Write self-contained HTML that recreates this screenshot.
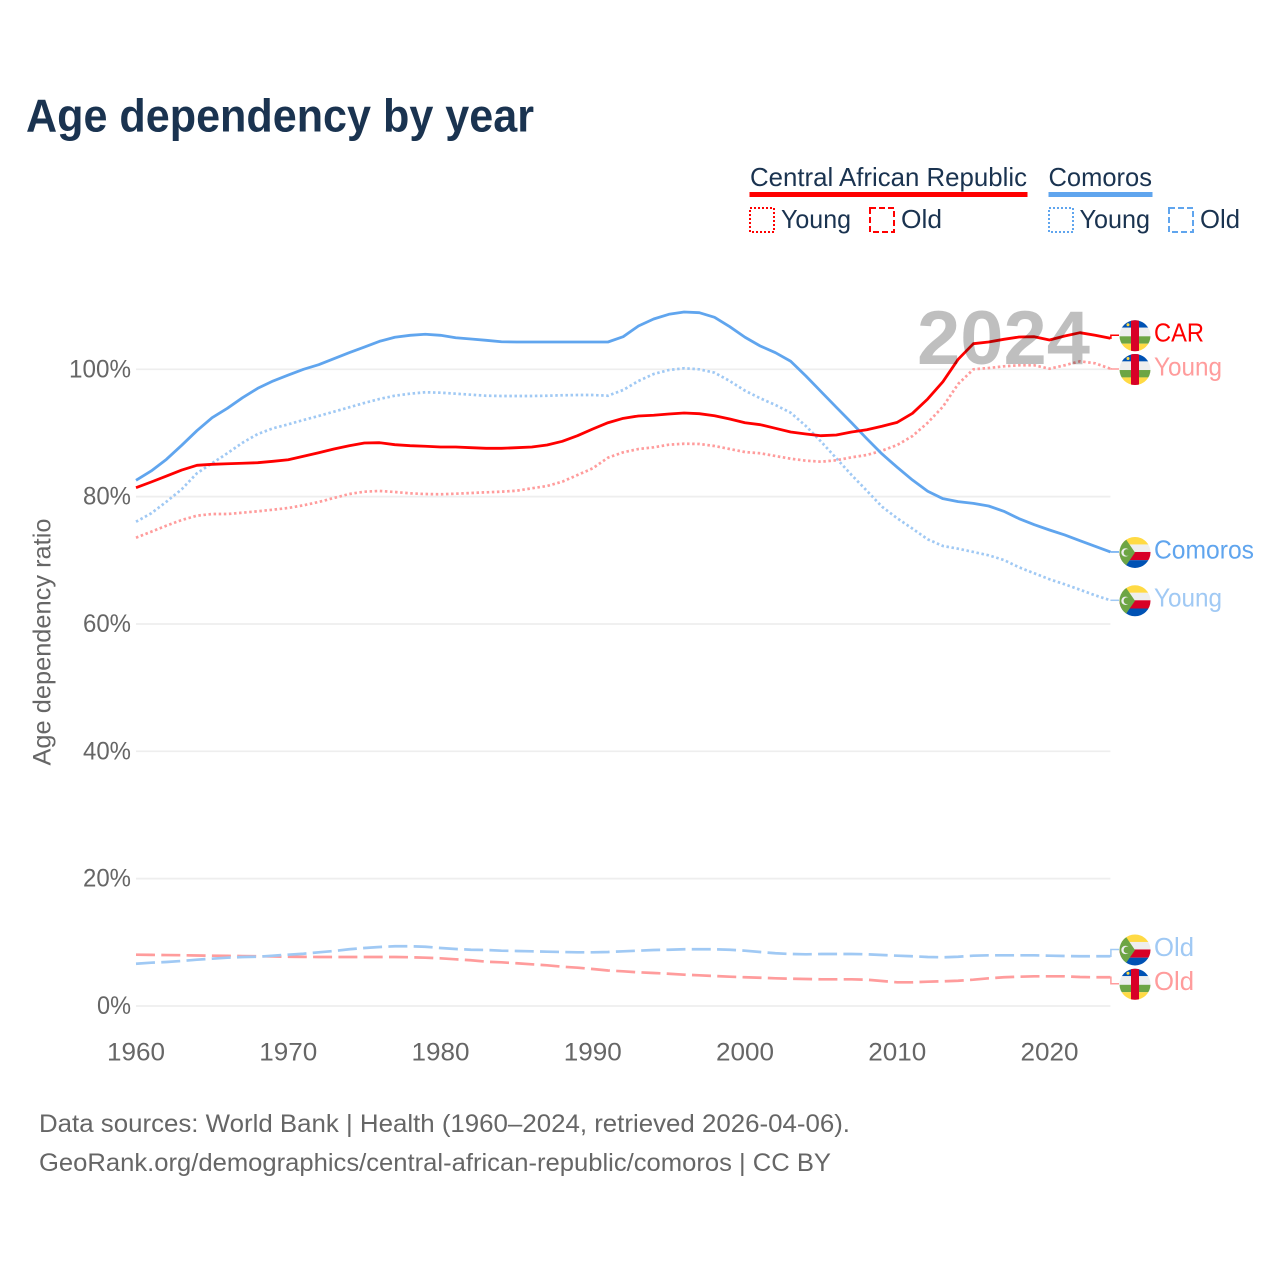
<!DOCTYPE html>
<html lang="en">
<head>
<meta charset="utf-8">
<title>Age dependency by year</title>
<style>
html,body{margin:0;padding:0;background:#fff;}
svg{display:block;font-family:"Liberation Sans",sans-serif;}
</style>
</head>
<body>
<svg id="chart" xmlns="http://www.w3.org/2000/svg" width="1280" height="1280" viewBox="0 0 1280 1280">
<defs>
<clipPath id="flag-clip"><circle cx="0" cy="0" r="15.5"/></clipPath>
<g id="flag-car" clip-path="url(#flag-clip)">
<rect x="-16" y="-16" width="32" height="8" fill="#0052b4"/>
<rect x="-16" y="-8.2" width="32" height="8.7" fill="#eeeeee"/>
<rect x="-16" y="0.5" width="32" height="7.4" fill="#6da544"/>
<rect x="-16" y="7.9" width="32" height="8.1" fill="#ffda44"/>
<rect x="-4" y="-16" width="8" height="32" fill="#d80027"/>
<circle cx="-7" cy="-11" r="1.5" fill="#ffda44"/>
</g>
<g id="flag-com" clip-path="url(#flag-clip)">
<rect x="-16" y="-16" width="32" height="8" fill="#ffda44"/>
<rect x="-16" y="-8" width="32" height="7.5" fill="#eeeeee"/>
<rect x="-16" y="-0.5" width="32" height="8.2" fill="#d80027"/>
<rect x="-16" y="7.7" width="32" height="8.3" fill="#0052b4"/>
<polygon points="-16,-16 -11,-16 0,0 -11,16 -16,16" fill="#6da544"/>
<circle cx="-9.5" cy="0" r="4.2" fill="#eeeeee"/>
<circle cx="-8" cy="0" r="3.4" fill="#6da544"/>
</g>
</defs>

<text x="26" y="131.3" font-size="46" font-weight="700" fill="#1a3350" textLength="508" lengthAdjust="spacingAndGlyphs">Age dependency by year</text>

<g fill="#1a3350" font-size="26">
<text x="750" y="186" textLength="277" lengthAdjust="spacingAndGlyphs">Central African Republic</text>
<rect x="749.5" y="192" width="278" height="5" fill="#ff0000"/>
<text x="1048.5" y="186" textLength="103.5" lengthAdjust="spacingAndGlyphs">Comoros</text>
<rect x="1048.5" y="192" width="104" height="5" fill="#60a5ee"/>

<rect x="750" y="208" width="24" height="24" fill="none" stroke="#ff0000" stroke-width="2" stroke-dasharray="2,2"/>
<text x="781" y="228" textLength="70" lengthAdjust="spacingAndGlyphs">Young</text>
<rect x="870" y="208" width="24" height="24" fill="none" stroke="#ff0000" stroke-width="2" stroke-dasharray="6,3"/>
<text x="901" y="228" textLength="41" lengthAdjust="spacingAndGlyphs">Old</text>
<rect x="1049" y="208" width="24" height="24" fill="none" stroke="#60a5ee" stroke-width="2" stroke-dasharray="2,2"/>
<text x="1079.5" y="228" textLength="70.5" lengthAdjust="spacingAndGlyphs">Young</text>
<rect x="1169" y="208" width="24" height="24" fill="none" stroke="#60a5ee" stroke-width="2" stroke-dasharray="6,3"/>
<text x="1200" y="228" textLength="40" lengthAdjust="spacingAndGlyphs">Old</text>
</g>

<text transform="translate(50.5,642) rotate(-90)" text-anchor="middle" font-size="25" fill="#666666" textLength="247" lengthAdjust="spacingAndGlyphs">Age dependency ratio</text>

<g id="grid"></g>
<g id="y-ticks"></g>
<g id="x-ticks"></g>
<g id="series"></g>
<g id="end-labels"></g>

<text x="917" y="364" font-size="76" font-weight="700" fill="#000000" fill-opacity="0.25" textLength="173" lengthAdjust="spacingAndGlyphs">2024</text>

<g font-size="25" fill="#666666">
<text x="39" y="1132" textLength="811" lengthAdjust="spacingAndGlyphs">Data sources: World Bank | Health (1960–2024, retrieved 2026-04-06).</text>
<text x="39" y="1171" textLength="792" lengthAdjust="spacingAndGlyphs">GeoRank.org/demographics/central-african-republic/comoros | CC BY</text>
</g>
</svg>

<script>
const startYear = 1960;
const xTickYears = [1960, 1970, 1980, 1990, 2000, 2010, 2020];
const yTickValues = [0, 20, 40, 60, 80, 100];

const comorosTotal = [82.57,84.03,85.86,88.06,90.36,92.40,93.87,95.54,97.02,98.16,99.10,100.00,100.72,101.66,102.61,103.50,104.40,105.03,105.34,105.50,105.34,104.96,104.76,104.55,104.33,104.29,104.29,104.29,104.29,104.29,104.29,104.29,105.12,106.80,107.90,108.64,109.00,108.89,108.17,106.69,105.03,103.66,102.61,101.26,98.95,96.48,94.03,91.61,89.10,86.70,84.61,82.61,80.84,79.68,79.21,78.95,78.53,77.70,76.54,75.59,74.76,73.98,73.08,72.20,71.31];
const comorosYoung = [76.06,77.38,79.21,81.15,83.67,85.24,86.81,88.47,89.84,90.73,91.36,92.04,92.67,93.34,94.03,94.71,95.34,95.85,96.17,96.39,96.33,96.17,96.01,95.85,95.81,95.81,95.81,95.85,95.92,95.96,95.96,95.85,96.75,98.16,99.26,99.89,100.16,100.00,99.47,98.16,96.64,95.45,94.39,93.18,91.09,88.63,86.02,83.40,80.93,78.42,76.60,74.97,73.30,72.25,71.82,71.31,70.79,70.05,68.90,67.96,67.02,66.23,65.38,64.50,63.72];
const comorosOld = [6.64,6.80,6.91,7.07,7.27,7.43,7.59,7.70,7.74,7.90,8.06,8.21,8.43,8.64,8.91,9.11,9.27,9.38,9.38,9.31,9.11,8.95,8.84,8.80,8.69,8.64,8.59,8.53,8.48,8.43,8.43,8.48,8.59,8.69,8.80,8.84,8.91,8.91,8.91,8.84,8.69,8.48,8.28,8.17,8.12,8.17,8.17,8.17,8.12,8.01,7.90,7.81,7.70,7.65,7.74,7.90,7.96,7.96,7.96,7.96,7.90,7.85,7.81,7.81,7.81];
const carTotal = [81.40,82.30,83.24,84.18,84.92,85.08,85.17,85.24,85.33,85.55,85.80,86.34,86.90,87.48,88.00,88.42,88.47,88.16,88.00,87.91,87.80,87.80,87.69,87.59,87.59,87.69,87.80,88.11,88.69,89.57,90.62,91.61,92.30,92.67,92.78,92.98,93.14,93.03,92.71,92.19,91.61,91.30,90.73,90.15,89.84,89.57,89.68,90.15,90.51,91.05,91.67,93.09,95.34,98.05,101.57,104.02,104.29,104.71,105.07,105.12,104.60,105.23,105.75,105.34,104.87];
const carYoung = [73.55,74.49,75.44,76.33,77.01,77.27,77.27,77.48,77.70,77.95,78.22,78.64,79.16,79.79,80.41,80.78,80.89,80.73,80.52,80.41,80.37,80.46,80.57,80.68,80.78,80.93,81.31,81.67,82.35,83.40,84.45,86.12,86.96,87.48,87.75,88.16,88.31,88.27,87.95,87.48,87.01,86.81,86.38,85.96,85.65,85.49,85.71,86.18,86.54,87.22,88.11,89.52,91.61,94.13,97.69,100.00,100.20,100.47,100.63,100.63,100.09,100.63,101.26,100.94,100.09];
const carOld = [8.06,8.03,8.00,7.98,7.93,7.90,7.87,7.84,7.81,7.78,7.74,7.72,7.70,7.70,7.70,7.70,7.70,7.70,7.66,7.59,7.49,7.33,7.18,6.96,6.86,6.71,6.55,6.39,6.17,6.02,5.81,5.58,5.45,5.29,5.18,5.07,4.92,4.82,4.71,4.60,4.51,4.44,4.35,4.29,4.24,4.19,4.19,4.19,4.13,3.93,3.72,3.72,3.82,3.88,3.97,4.13,4.35,4.51,4.60,4.66,4.66,4.66,4.55,4.51,4.51];

const NS = 'http://www.w3.org/2000/svg';
function xScale(year) { return 136 + (year - 1960) * 15.225; }
function yScale(value) { return 1006 - value * 6.367; }
const plotRight = xScale(2024);

const grid = document.getElementById('grid');
const yTicks = document.getElementById('y-ticks');
const tickWidths = {0: 34, 20: 48, 40: 48, 60: 48, 80: 48, 100: 62};
yTickValues.forEach(function (v) {
  const line = document.createElementNS(NS, 'line');
  
  
  line.setAttribute('x1', xScale(1960));
  line.setAttribute('x2', plotRight);
  line.setAttribute('y1', yScale(v));
  line.setAttribute('y2', yScale(v));
  line.setAttribute('stroke', '#eeeeee');
  line.setAttribute('stroke-width', '1.7');
  grid.appendChild(line);

  const t = document.createElementNS(NS, 'text');
  
  
  t.setAttribute('x', 131);
  t.setAttribute('y', yScale(v) + 8);
  t.setAttribute('text-anchor', 'end');
  t.setAttribute('font-size', '25');
  t.setAttribute('fill', '#666666');
  t.setAttribute('textLength', tickWidths[v]);
  t.setAttribute('lengthAdjust', 'spacingAndGlyphs');
  t.textContent = v + '%';
  yTicks.appendChild(t);
});

const xTicks = document.getElementById('x-ticks');
xTickYears.forEach(function (y) {
  const t = document.createElementNS(NS, 'text');
  
  
  t.setAttribute('x', xScale(y));
  t.setAttribute('y', 1060.5);
  t.setAttribute('text-anchor', 'middle');
  t.setAttribute('font-size', '25');
  t.setAttribute('fill', '#666666');
  t.setAttribute('textLength', 58);
  t.setAttribute('lengthAdjust', 'spacingAndGlyphs');
  t.textContent = y;
  xTicks.appendChild(t);
});

const seriesGroup = document.getElementById('series');
const labelsGroup = document.getElementById('end-labels');

function drawSeries(values, name, color, width, dash, label, labelWidth, flag, labelShift) {
  const d = values.map(function (v, i) {
    return (i ? 'L' : 'M') + xScale(startYear + i).toFixed(2) + ' ' + yScale(v).toFixed(2);
  }).join(' ');
  const p = document.createElementNS(NS, 'path');
  
  
  p.setAttribute('d', d);
  p.setAttribute('fill', 'none');
  p.setAttribute('stroke', color);
  p.setAttribute('stroke-width', width);
  p.setAttribute('stroke-linejoin', 'round');
  if (dash) p.setAttribute('stroke-dasharray', dash);
  seriesGroup.appendChild(p);

  const endY = yScale(values[values.length - 1]);
  const labelY = endY + labelShift;

  const c = document.createElementNS(NS, 'path');
  
  
  c.setAttribute('d', 'M' + plotRight + ' ' + endY + ' H' + (plotRight + 0.5) + ' V' + labelY + ' H1119');
  c.setAttribute('fill', 'none');
  c.setAttribute('stroke', color);
  c.setAttribute('stroke-width', '1.5');
  labelsGroup.appendChild(c);

  const f = document.createElementNS(NS, 'use');
  
  
  f.setAttribute('href', flag);
  f.setAttribute('x', 1135);
  f.setAttribute('y', labelY + 0.5);
  labelsGroup.appendChild(f);

  const t = document.createElementNS(NS, 'text');
  
  
  t.setAttribute('x', 1154);
  t.setAttribute('y', labelY + 6.3);
  t.setAttribute('font-size', '26');
  t.setAttribute('fill', color);
  t.setAttribute('textLength', labelWidth);
  t.setAttribute('lengthAdjust', 'spacingAndGlyphs');
  t.textContent = label;
  labelsGroup.appendChild(t);
}

const lightRed = '#ff9c9c';
const lightBlue = '#a0c9f4';
const dotted = '2.5,2.6';
const dashed = '19,6.3';

drawSeries(carOld, 'car-old', lightRed, 2.7, dashed, 'Old', 40, '#flag-car', 6.5);
drawSeries(comorosOld, 'comoros-old', lightBlue, 2.7, dashed, 'Old', 40, '#flag-com', -6.8);
drawSeries(comorosYoung, 'comoros-young', lightBlue, 2.7, dotted, 'Young', 68, '#flag-com', 0);
drawSeries(carYoung, 'car-young', lightRed, 2.7, dotted, 'Young', 68, '#flag-car', 0.3);
drawSeries(comorosTotal, 'comoros-total', '#60a5ee', 2.8, null, 'Comoros', 100, '#flag-com', 0);
drawSeries(carTotal, 'car-total', '#ff0000', 2.8, null, 'CAR', 50, '#flag-car', -3);
</script>
</body>
</html>
